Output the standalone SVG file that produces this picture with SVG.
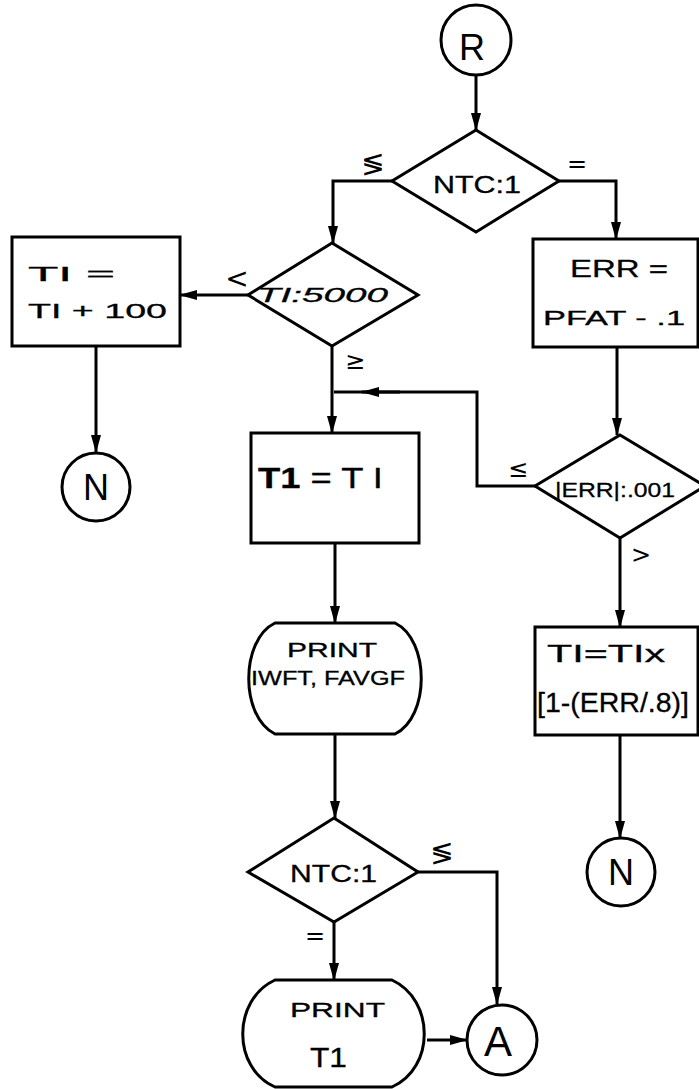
<svg xmlns="http://www.w3.org/2000/svg" width="699" height="1089" viewBox="0 0 699 1089">
<style>
.s{fill:#fff;stroke:#000;stroke-width:3}
.c{fill:none;stroke:#000;stroke-width:3}
.t{font-family:"Liberation Sans",Arial,sans-serif;font-size:21px;fill:#000;stroke:#000;stroke-width:0.3;text-anchor:start}
.k{font-family:"Liberation Sans",Arial,sans-serif;fill:#000;text-anchor:middle}
.m{font-family:"DejaVu Sans",sans-serif;font-size:24px;fill:#000;text-anchor:middle}
</style>
<defs>
<marker id="ah" markerUnits="userSpaceOnUse" markerWidth="18" markerHeight="10" refX="17" refY="5" orient="auto">
<path d="M0,0 L18,5 L0,10 Z" fill="#000"/>
</marker>
</defs>
<rect width="699" height="1089" fill="#fff"/>
<g id="connectors">
<path class="c" d="M476 75 V130" marker-end="url(#ah)"/>
<path class="c" d="M392 181 H333 V243" marker-end="url(#ah)"/>
<path class="c" d="M559 181 H616 V239" marker-end="url(#ah)"/>
<path class="c" d="M248 295 H180" marker-end="url(#ah)"/>
<path class="c" d="M96 346 V452" marker-end="url(#ah)"/>
<path class="c" d="M332 346 V433" marker-end="url(#ah)"/>
<path class="c" d="M535 486 H477 V392 H334"/>
<path class="c" d="M400 392 H362" marker-end="url(#ah)"/>
<path class="c" d="M617 347 V435" marker-end="url(#ah)"/>
<path class="c" d="M620 538 V627" marker-end="url(#ah)"/>
<path class="c" d="M620 735 V838" marker-end="url(#ah)"/>
<path class="c" d="M335 543 V623" marker-end="url(#ah)"/>
<path class="c" d="M335 734 V818" marker-end="url(#ah)"/>
<path class="c" d="M334 922 V980" marker-end="url(#ah)"/>
<path class="c" d="M418 872 H497 V1004" marker-end="url(#ah)"/>
<path class="c" d="M427 1040 H467" marker-end="url(#ah)"/>
<text class="m" x="373" y="173" style="font-size:28px">≶</text>
<text class="m" x="577" y="172">=</text>
<text class="m" x="237" y="288" style="font-size:28px">&lt;</text>
<text class="m" x="355" y="369">≥</text>
<text class="m" x="518" y="477">≤</text>
<text class="m" x="641" y="563">&gt;</text>
<text class="m" x="442" y="862" style="font-size:28px">≶</text>
<text class="m" x="315" y="944">=</text>
</g>
<g id="R"><circle class="s" cx="476" cy="40" r="35"/><text class="k" x="472" y="60" style="font-size:36px">R</text></g>
<g id="d1"><polygon class="s" points="476,130 559,181 476,232 392,181"/><text class="t" x="433" y="193" textLength="88" lengthAdjust="spacingAndGlyphs" style="font-size:23px">NTC:1</text></g>
<g id="d2"><polygon class="s" points="332,243 418,295 332,346 248,295"/><text class="t" x="257" y="302" textLength="131" lengthAdjust="spacingAndGlyphs" style="font-style:italic">TI:5000</text></g>
<g id="b1"><rect class="s" x="12" y="237" width="168" height="109"/><text class="t" x="28" y="281" textLength="87" lengthAdjust="spacingAndGlyphs">TI =</text><text class="t" x="28" y="318" textLength="139" lengthAdjust="spacingAndGlyphs">TI + 100</text></g>
<g id="n1"><circle class="s" cx="96" cy="487" r="34"/><text class="k" x="96" y="500" style="font-size:36px">N</text></g>
<g id="b2"><rect class="s" x="533" y="239" width="165" height="108"/><text class="t" x="570" y="277" textLength="98" lengthAdjust="spacingAndGlyphs" style="font-size:24px">ERR =</text><text class="t" x="543" y="325" textLength="142" lengthAdjust="spacingAndGlyphs">PFAT - .1</text></g>
<g id="b3"><rect class="s" x="251" y="433" width="168" height="110"/><text class="t" x="258" y="488" textLength="125" lengthAdjust="spacingAndGlyphs" style="font-size:29px"><tspan font-weight="bold">T1</tspan> = T I</text></g>
<g id="d3"><polygon class="s" points="620,435 705,486 620,538 535,486"/><text class="t" x="555" y="497" textLength="120" lengthAdjust="spacingAndGlyphs">|ERR|:.001</text></g>
<g id="p1"><path class="s" d="M275 623 H395 C430 640 430 717 395 734 H275 C240 717 240 640 275 623 Z"/><text class="t" x="287" y="657" textLength="90" lengthAdjust="spacingAndGlyphs" style="font-size:20px">PRINT</text><text class="t" x="251" y="685" textLength="154" lengthAdjust="spacingAndGlyphs">IWFT, FAVGF</text></g>
<g id="b4"><rect class="s" x="535" y="627" width="163" height="108"/><text class="t" x="547" y="662" textLength="118" lengthAdjust="spacingAndGlyphs" style="font-size:24px">TI=TIx</text><text class="t" x="537" y="712" textLength="152" lengthAdjust="spacingAndGlyphs" style="font-size:27px">[1-(ERR/.8)]</text></g>
<g id="n2"><circle class="s" cx="621" cy="872" r="34"/><text class="k" x="621" y="885" style="font-size:36px">N</text></g>
<g id="d4"><polygon class="s" points="334,818 418,872 334,922 248,872"/><text class="t" x="290" y="882" textLength="87" lengthAdjust="spacingAndGlyphs" style="font-size:24px">NTC:1</text></g>
<g id="p2"><path class="s" d="M275 980 H392 C435 1000 435 1068 392 1087 H275 C232 1068 232 1000 275 980 Z"/><text class="t" x="290" y="1017" textLength="95" lengthAdjust="spacingAndGlyphs">PRINT</text><text class="t" x="310" y="1067" textLength="37" lengthAdjust="spacingAndGlyphs" style="font-size:27px">T1</text></g>
<g id="A"><circle class="s" cx="502" cy="1040" r="35"/><text class="k" x="498" y="1056" style="font-size:42px">A</text></g>
</svg>
